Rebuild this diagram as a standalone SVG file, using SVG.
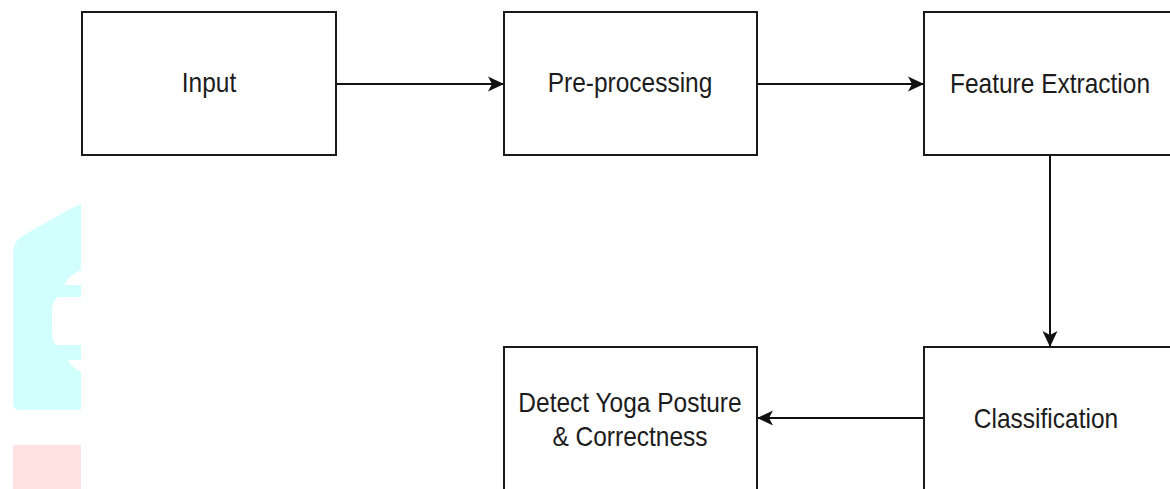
<svg xmlns="http://www.w3.org/2000/svg" width="1170" height="489" viewBox="0 0 1170 489">
  <style>
    .box { fill: #ffffff; stroke: #1a1a1a; stroke-width: 2; }
    .lbl { font-family: "Liberation Sans", Arial, sans-serif; font-size: 24.5px; fill: #1c1c1c; text-anchor: middle; }
    .edge { stroke: #111111; stroke-width: 2; fill: none; marker-end: url(#arrow); }
  </style>
  <defs>
    <marker id="arrow" markerUnits="userSpaceOnUse" markerWidth="18" markerHeight="16" refX="16" refY="8" orient="auto">
      <path d="M0,0.5 L16,8 L0,15.5 L4,8 Z" fill="#111111"/>
    </marker>
  </defs>
  <rect width="1170" height="489" fill="#ffffff"/>
  <g id="watermark">
    <path d="M81,204 L81,489 L13,489 L13,252 Q13,241 24,235 L70,209 Z" fill="#d2fefe"/>
    <path d="M13,410 L13,445 L81,445 L81,410 Z" fill="#ffffff"/>
    <path d="M81,410 L20,410 Q13,410 13,403 L13,410 Z" fill="#ffffff"/>
    <path d="M13,445 L81,445 L81,489 L13,489 Z" fill="#ffe3e3"/>
    <path d="M81,270 Q70,274 64,285 L81,285 Z" fill="#ffffff"/>
    <path d="M81,297 L58,297 Q52,300 52,312 L52,332 Q52,344 57,345 L81,345 Z" fill="#ffffff"/>
    <path d="M81,360 L68,360 Q72,368 81,372 Z" fill="#ffffff"/>
  </g>
  <g id="connectors">
    <line class="edge" x1="337" y1="84" x2="504" y2="84"/>
    <line class="edge" x1="757" y1="84" x2="924" y2="84"/>
    <line class="edge" x1="1050" y1="155" x2="1050" y2="347"/>
    <line class="edge" x1="924" y1="418" x2="757" y2="418"/>
  </g>
  <g id="node-input">
    <rect class="box" x="82" y="12" width="254" height="143"/>
    <text class="lbl" transform="translate(209,92) scale(1,1.12)">Input</text>
  </g>
  <g id="node-preprocessing">
    <rect class="box" x="504" y="12" width="253" height="143"/>
    <text class="lbl" transform="translate(630,92) scale(1,1.12)">Pre-processing</text>
  </g>
  <g id="node-feature">
    <rect class="box" x="924" y="12" width="260" height="143"/>
    <text class="lbl" transform="translate(1050,93) scale(1,1.12)">Feature Extraction</text>
  </g>
  <g id="node-classification">
    <rect class="box" x="924" y="347" width="260" height="160"/>
    <text class="lbl" transform="translate(1046,428) scale(1,1.12)">Classification</text>
  </g>
  <g id="node-detect">
    <rect class="box" x="504" y="347" width="253" height="160"/>
    <text class="lbl" transform="translate(630,412) scale(1,1.12)">Detect Yoga Posture</text>
    <text class="lbl" transform="translate(630,446) scale(1,1.12)">&amp; Correctness</text>
  </g>
</svg>
